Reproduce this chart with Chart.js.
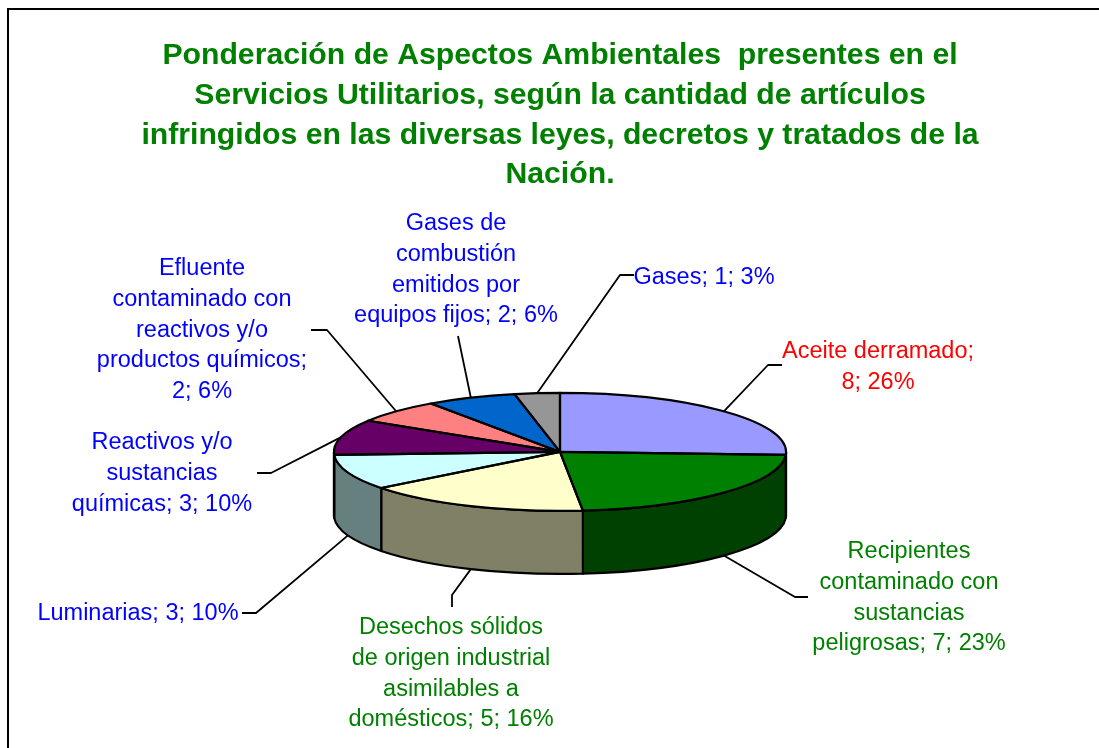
<!DOCTYPE html>
<html>
<head>
<meta charset="utf-8">
<style>
    html, body { margin: 0; padding: 0; background: #fff; overflow: hidden; }
    canvas { display: block; }
</style>
<script src="https://cdn.jsdelivr.net/npm/chart.js@4"></script>
</head>
<body>
<canvas id="myChart" width="1099" height="748"></canvas>
<script>
const titulo = [
    'Ponderación de Aspectos Ambientales  presentes en el',
    'Servicios Utilitarios, según la cantidad de artículos',
    'infringidos en las diversas leyes, decretos y tratados de la',
    'Nación.'
];
const categorias = [
    'Aceite derramado',
    'Recipientes\ncontaminado con\nsustancias\npeligrosas',
    'Desechos sólidos\nde origen industrial\nasimilables a\ndomésticos',
    'Luminarias',
    'Reactivos y/o\nsustancias\nquímicas',
    'Efluente\ncontaminado con\nreactivos y/o\nproductos químicos',
    'Gases de\ncombustión\nemitidos por\nequipos fijos',
    'Gases'
];
const valores = [8, 7, 5, 3, 3, 2, 2, 1];
const colores = ['#9999FF', '#008000', '#FFFFCC', '#CCFFFF', '#660066', '#FF8080', '#0066CC', '#969696'];
const coloresLado = ['#4D4D80', '#004000', '#808066', '#668080', '#330033', '#804040', '#003366', '#4B4B4B'];
const coloresTexto = ['#FF0000', '#008000', '#008000', '#0000FF', '#0000FF', '#0000FF', '#0000FF', '#0000FF'];
// line break between the name and the value, only two labels have it
const cortes = [true, false, false, false, false, true, false, false];

// label placement: centre x, y of the first line, leader elbow, leader end
const posEtiquetas = [
    { x: 878, y: 352, codo: [768, 365], fin: [782, 365] },
    { x: 909, y: 552, codo: [795, 597], fin: [808, 597] },
    { x: 451, y: 628, codo: [452, 595], fin: [452, 607] },
    { x: 138, y: 614, codo: [256, 613], fin: [242, 613] },
    { x: 162, y: 443, codo: [271, 473], fin: [257, 473] },
    { x: 202, y: 269, codo: [327, 330], fin: [311, 330] },
    { x: 456, y: 224, codo: [458, 336], fin: [458, 336] },
    { x: 704, y: 278, codo: [620, 275], fin: [634, 275] }
];

const inclinacion = 0.261;  // ry / rx of the flattened pie
const grosor = 63;          // height of the side wall
const altoLinea = 30.6;

let total = valores.reduce(function (a, b) { return a + b; }, 0);

const pastel3d = {
    id: 'pastel3d',
    beforeDraw: function (chart) {
        let ctx = chart.ctx;
        ctx.save();
        ctx.strokeStyle = '#000';
        ctx.lineWidth = 2;
        ctx.strokeRect(8, 9, 1300, 1000);
        ctx.restore();
    },
    beforeDatasetsDraw: function (chart) {
        let ctx = chart.ctx;
        let arcos = chart.getDatasetMeta(0).data;
        let cx = arcos[0].x, cy = arcos[0].y;
        let rx = arcos[0].outerRadius, ry = rx * inclinacion;

        // front walls, only the part of each slice with angle between 0 and PI shows
        ctx.save();
        ctx.strokeStyle = '#000';
        ctx.lineWidth = 2.2;
        ctx.lineJoin = 'round';
        arcos.forEach(function (arco, i) {
            let ini = Math.max(arco.startAngle, 0);
            let fin = Math.min(arco.endAngle, Math.PI);
            if (fin <= ini) return;
            ctx.beginPath();
            ctx.ellipse(cx, cy, rx, ry, 0, ini, fin);
            ctx.ellipse(cx, cy + grosor, rx, ry, 0, fin, ini, true);
            ctx.closePath();
            ctx.fillStyle = coloresLado[i];
            ctx.fill();
            ctx.stroke();
        });
        ctx.restore();

        // squash the chart's own arcs
        ctx.save();
        ctx.translate(cx, cy);
        ctx.scale(1, inclinacion);
        ctx.translate(-cx, -cy);
    },
    afterDatasetsDraw: function (chart) {
        let ctx = chart.ctx;
        ctx.restore();

        let arcos = chart.getDatasetMeta(0).data;
        let cx = arcos[0].x, cy = arcos[0].y;
        let rx = arcos[0].outerRadius, ry = rx * inclinacion;

        ctx.save();
        ctx.strokeStyle = '#000';
        ctx.lineWidth = 2.2;
        ctx.lineJoin = 'round';
        arcos.forEach(function (arco) {
            ctx.beginPath();
            ctx.moveTo(cx, cy);
            ctx.ellipse(cx, cy, rx, ry, 0, arco.startAngle, arco.endAngle);
            ctx.closePath();
            ctx.stroke();
        });

        // leader lines and labels
        ctx.textAlign = 'center';
        ctx.textBaseline = 'middle';
        ctx.font = '23.5px "Liberation Sans", Arial, sans-serif';
        arcos.forEach(function (arco, i) {
            let pos = posEtiquetas[i];
            let medio = (arco.startAngle + arco.endAngle) / 2;
            let px = cx + rx * Math.cos(medio);
            let py = cy + ry * Math.sin(medio);
            if (Math.sin(medio) > 0) py += grosor;

            ctx.beginPath();
            ctx.lineWidth = 1.8;
            ctx.moveTo(px, py);
            ctx.lineTo(pos.codo[0], pos.codo[1]);
            ctx.lineTo(pos.fin[0], pos.fin[1]);
            ctx.stroke();

            let pct = Math.round(valores[i] / total * 100);
            let texto = categorias[i] + ';' + (cortes[i] ? '\n' : ' ') + valores[i] + '; ' + pct + '%';
            ctx.fillStyle = coloresTexto[i];
            texto.split('\n').forEach(function (linea, n) {
                ctx.fillText(linea, pos.x, pos.y + n * altoLinea);
            });
        });
        ctx.restore();
    }
};

var ctx = document.getElementById('myChart').getContext('2d');
var myChart = new Chart(ctx, {
    type: 'pie',
    data: {
        labels: categorias,
        datasets: [{
            data: valores,
            backgroundColor: colores,
            borderWidth: 0
        }]
    },
    options: {
        responsive: false,
        animation: false,
        layout: {
            padding: { left: 27, right: 6, top: 36, bottom: 70 }
        },
        plugins: {
            legend: { display: false },
            tooltip: { enabled: false },
            title: {
                display: true,
                text: titulo,
                color: '#008000',
                font: { family: '"Liberation Sans", Arial, sans-serif', size: 30.2, weight: 'bold', lineHeight: 1.315 },
                padding: { top: 0, bottom: 31 }
            }
        }
    },
    plugins: [pastel3d]
});
</script>
</body>
</html>
